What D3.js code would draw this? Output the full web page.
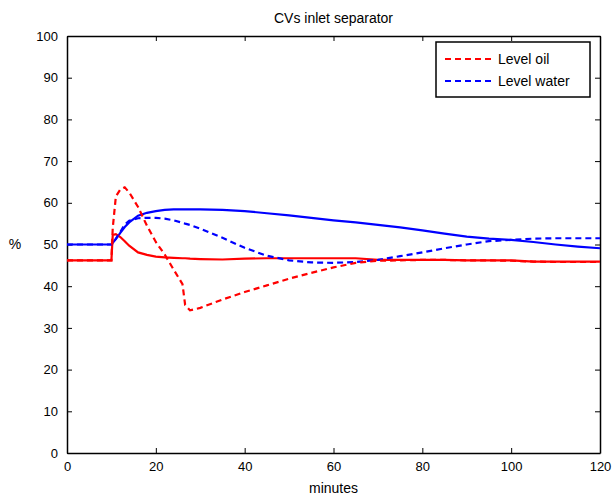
<!DOCTYPE html>
<html>
<head>
<meta charset="utf-8">
<script src="https://cdn.jsdelivr.net/npm/d3@7"></script>
<style>
  body { margin: 0; background: #fff; }
  svg { font-family: "Liberation Sans", Arial, sans-serif; }
  .axis path, .axis line { stroke: #000; }
  .axis text { font-size: 13px; fill: #000; }
</style>
</head>
<body>
<svg id="chart" width="614" height="496"></svg>
<script>
// Data (minutes, %)
var minutes = [0, 10, 10.3, 11, 12, 13, 14, 16, 18, 20, 22, 24, 26, 26.6, 27.7, 30, 35, 40, 45, 50,
  55, 60, 65, 70, 75, 80, 85, 90, 95, 100, 105, 110, 115, 120];
var oilLevel = [46.2, 46.2, 54, 61.5, 63.2, 63.7, 62.5, 59, 54.5, 50.6, 47.6, 44, 40.5, 35.5, 34.2, 34.8, 36.8, 38.6, 40.2, 41.8,
  43.2, 44.5, 45.6, 46.1, 46.2, 46.3, 46.3, 46.2, 46.2, 46.1, 45.9, 45.8, 45.8, 45.8];
var oilValve = [46.2, 46.2, 52.3, 52.5, 51.8, 50.8, 49.7, 48.1, 47.5, 47.1, 46.9, 46.8, 46.7, 46.7, 46.6, 46.5, 46.4, 46.6, 46.7, 46.7,
  46.7, 46.7, 46.7, 46.3, 46.3, 46.3, 46.3, 46.2, 46.2, 46.2, 45.9, 45.9, 45.9, 45.9];
var waterLevel = [50, 50, 50.4, 51.4, 53, 54.8, 55.7, 56.3, 56.4, 56.4, 56.2, 55.8, 55.2, 55.0, 54.7, 53.8, 51.6, 49.2, 47.3, 46.2,
  45.7, 45.6, 45.8, 46.3, 47.2, 48.1, 49.1, 50, 50.8, 51.1, 51.4, 51.5, 51.5, 51.5];
var waterValve = [50, 50, 50.4, 51.3, 52.8, 54.2, 55.3, 56.9, 57.6, 58, 58.3, 58.4, 58.4, 58.4, 58.4, 58.4, 58.3, 58.0, 57.5, 57,
  56.4, 55.8, 55.3, 54.7, 54.1, 53.4, 52.6, 51.9, 51.4, 51.1, 50.6, 50, 49.5, 49.1];
var xTicks = [0, 20, 40, 60, 80, 100, 120];
var yTicks = [0, 10, 20, 30, 40, 50, 60, 70, 80, 90, 100];
var legendNames = ['Level oil', 'Level water'];

var margin = {top: 36, right: 14, bottom: 43, left: 67},
    width = 614 - margin.left - margin.right,
    height = 496 - margin.top - margin.bottom;

var xScale = d3.scaleLinear().domain([0, 120]).range([0, width]);
var yScale = d3.scaleLinear().domain([0, 100]).range([height, 0]);

var svg = d3.select('#chart').append('g')
    .attr('transform', 'translate(' + margin.left + ',' + margin.top + ')');

// Axes, ticks inward on all four sides
svg.append('g').attr('class', 'axis')
    .attr('transform', 'translate(0,' + height + ')')
    .call(d3.axisBottom(xScale).tickValues(xTicks).tickSize(-5).tickSizeOuter(0).tickPadding(9));
svg.append('g').attr('class', 'axis')
    .call(d3.axisTop(xScale).tickValues(xTicks).tickSize(-5).tickSizeOuter(0).tickFormat(''));
svg.append('g').attr('class', 'axis')
    .call(d3.axisLeft(yScale).tickValues(yTicks).tickSize(-5).tickSizeOuter(0).tickPadding(9));
svg.append('g').attr('class', 'axis')
    .attr('transform', 'translate(' + width + ',0)')
    .call(d3.axisRight(yScale).tickValues(yTicks).tickSize(-5).tickSizeOuter(0).tickFormat(''));
svg.selectAll('.axis path').attr('stroke-width', 1.5);

var line = d3.line()
    .x(function(d) { return xScale(d[0]); })
    .y(function(d) { return yScale(d[1]); });

var series = [
  {vals: waterValve, color: '#0000ff', dash: null},
  {vals: oilValve, color: '#ff0000', dash: null},
  {vals: waterLevel, color: '#0000ff', dash: '6,4'},
  {vals: oilLevel, color: '#ff0000', dash: '6,4'}
];

series.forEach(function(s) {
  svg.append('path')
      .datum(minutes.map(function(t, i) { return [t, s.vals[i]]; }))
      .attr('fill', 'none')
      .attr('stroke', s.color)
      .attr('stroke-width', 2.2)
      .attr('stroke-dasharray', s.dash)
      .attr('d', line);
});

// Title and labels
svg.append('text')
    .attr('x', width / 2).attr('y', -13)
    .attr('text-anchor', 'middle')
    .style('font-size', '14px')
    .text('CVs inlet separator');
svg.append('text')
    .attr('x', width / 2).attr('y', height + 40)
    .attr('text-anchor', 'middle')
    .style('font-size', '14px')
    .text('minutes');
svg.append('text')
    .attr('x', -52).attr('y', yScale(50) + 4)
    .attr('text-anchor', 'middle')
    .style('font-size', '14px')
    .text('%');

// Legend
var legend = svg.append('g').attr('transform', 'translate(' + (width - 164) + ',6)');
legend.append('rect')
    .attr('width', 154).attr('height', 55)
    .attr('fill', '#fff').attr('stroke', '#000').attr('stroke-width', 1.5);
legendNames.forEach(function(name, i) {
  var y = 17 + i * 22;
  legend.append('line')
      .attr('x1', 9).attr('x2', 56).attr('y1', y).attr('y2', y)
      .attr('stroke', i === 0 ? '#ff0000' : '#0000ff')
      .attr('stroke-width', 2.2)
      .attr('stroke-dasharray', '6,4');
  legend.append('text')
      .attr('x', 62).attr('y', y + 5)
      .style('font-size', '14px')
      .text(name);
});
</script>
</body>
</html>
